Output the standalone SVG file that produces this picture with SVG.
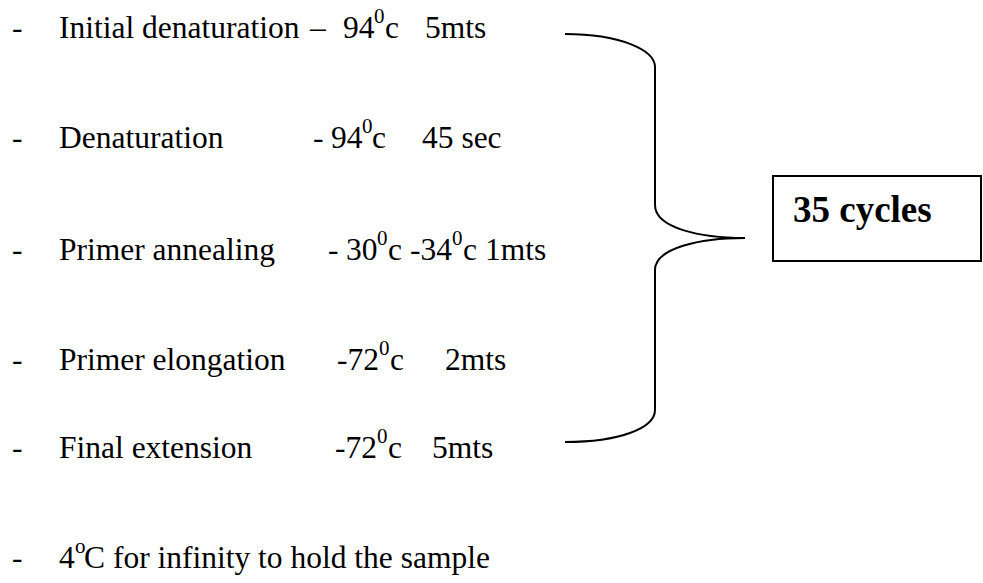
<svg xmlns="http://www.w3.org/2000/svg" width="983" height="583" viewBox="0 0 983 583">
<style>
text{font-family:"Liberation Serif","Times New Roman",serif;font-size:31.5px;fill:#000}
.sup{font-size:21px}
.b{font-weight:bold;font-size:37px}
.ln{fill:none;stroke:#000;stroke-width:2}
</style>
<rect width="983" height="583" fill="#fff"/>
<g id="step1">
<text x="12" y="38">-</text>
<text x="59" y="38">Initial denaturation</text>
<text x="310" y="38">–</text>
<text x="343" y="38">94</text><text class="sup" x="374" y="23">0</text><text x="385" y="38">c</text>
<text x="425" y="38">5mts</text>
</g>
<g id="step2">
<text x="12" y="148">-</text>
<text x="59" y="148">Denaturation</text>
<text x="313" y="148">-</text>
<text x="331" y="148">94</text><text class="sup" x="362" y="133">0</text><text x="372" y="148">c</text>
<text x="422" y="148">45 sec</text>
</g>
<g id="step3">
<text x="12" y="260">-</text>
<text x="59" y="260">Primer annealing</text>
<text x="328" y="260">-</text>
<text x="346" y="260">30</text><text class="sup" x="377" y="245">0</text><text x="388" y="260">c</text>
<text x="410" y="260">-34</text><text class="sup" x="452" y="245">0</text><text x="463" y="260">c</text>
<text x="485" y="260">1mts</text>
</g>
<g id="step4">
<text x="12" y="370">-</text>
<text x="59" y="370">Primer elongation</text>
<text x="337" y="370">-72</text><text class="sup" x="379" y="355">0</text><text x="390" y="370">c</text>
<text x="445" y="370">2mts</text>
</g>
<g id="step5">
<text x="12" y="458">-</text>
<text x="59" y="458">Final extension</text>
<text x="335" y="458">-72</text><text class="sup" x="377" y="443">0</text><text x="388" y="458">c</text>
<text x="432" y="458">5mts</text>
</g>
<g id="step6">
<text x="12" y="568">-</text>
<text x="59" y="568">4</text><text class="sup" x="75" y="553">o</text><text x="84" y="568">C for infinity to hold the sample</text>
</g>
<g id="connectors">
<path class="ln" d="M565,34 C620,34 655,50 655,67 L655,205 C655,228 700,238 745,238 C700,238 655,248 655,270 L655,410 C655,428 620,442 565,442"/>
</g>
<g id="cycles">
<rect x="773" y="176" width="208" height="85" fill="none" stroke="#000" stroke-width="2"/>
<text class="b" x="793" y="222">35 cycles</text>
</g>
</svg>
